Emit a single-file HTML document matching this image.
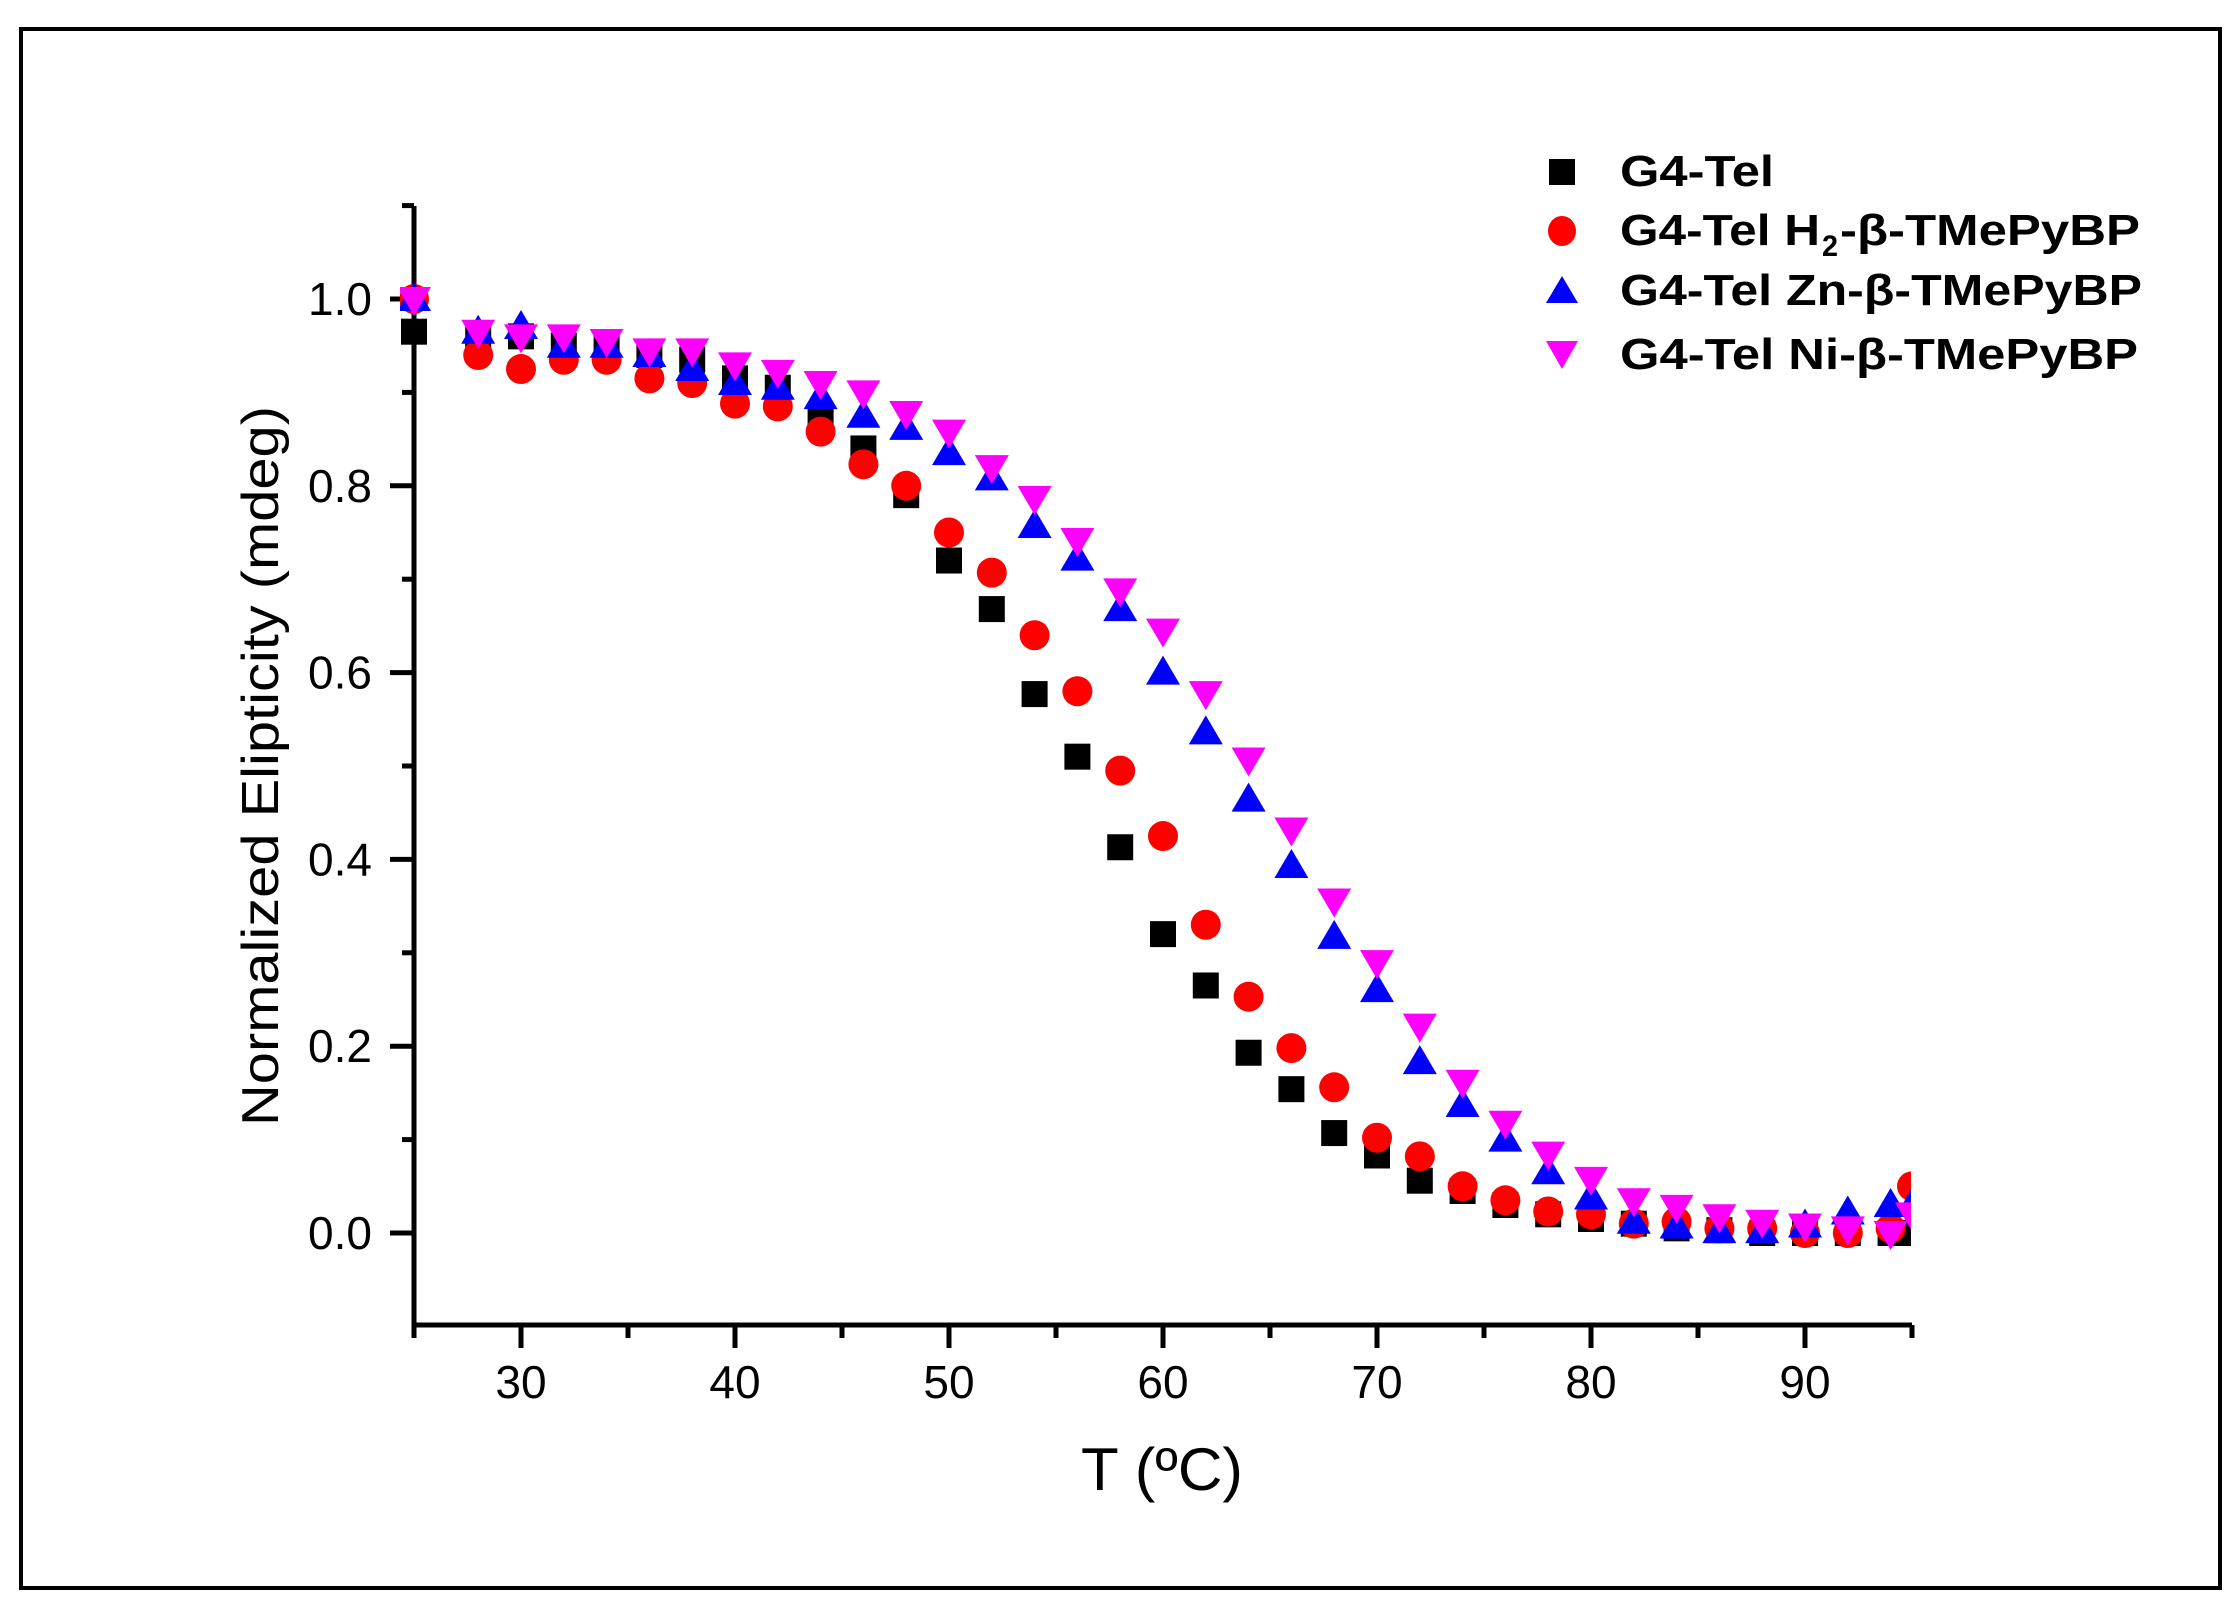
<!DOCTYPE html>
<html><head><meta charset="utf-8"><style>
html,body{margin:0;padding:0;background:#fff;}
svg{display:block;}
</style></head><body>
<svg id="c" width="2235" height="1606" xmlns="http://www.w3.org/2000/svg">
<rect x="21" y="29" width="2199" height="1559" fill="none" stroke="#000" stroke-width="4"/>
<defs><clipPath id="cp"><rect x="400" y="150" width="1511" height="1200"/></clipPath></defs>
<g id="axes" stroke="#000" stroke-width="5" fill="none"></g>
<g id="ticklabels" font-family="Liberation Sans, Arial, sans-serif" font-size="46" fill="#000"></g>
<g id="pts" clip-path="url(#cp)"></g>
<text x="1162" y="1490" font-family="Liberation Sans, Arial, sans-serif" font-size="60" text-anchor="middle" textLength="162" lengthAdjust="spacingAndGlyphs">T (ºC)</text>
<text transform="translate(278,766) rotate(-90)" font-family="Liberation Sans, Arial, sans-serif" font-size="52" text-anchor="middle" textLength="720" lengthAdjust="spacingAndGlyphs">Normalized Elipticity (mdeg)</text>
<g font-family="Liberation Sans, Arial, sans-serif" font-weight="bold" font-size="44" fill="#000">
<rect x="1549" y="159" width="26" height="26" fill="#000"/>
<text x="1620" y="186" textLength="154" lengthAdjust="spacingAndGlyphs">G4-Tel</text>
<ellipse cx="1562" cy="231" rx="14" ry="15" fill="#f00"/>
<text x="1620" y="245" textLength="200" lengthAdjust="spacingAndGlyphs">G4-Tel H</text>
<text x="1822" y="256" font-size="30" textLength="16" lengthAdjust="spacingAndGlyphs">2</text>
<text x="1840" y="245" textLength="300" lengthAdjust="spacingAndGlyphs">-β-TMePyBP</text>
<polygon points="1562,276 1578,303 1546,303" fill="#00f"/>
<text x="1620" y="305" textLength="522" lengthAdjust="spacingAndGlyphs">G4-Tel Zn-β-TMePyBP</text>
<polygon points="1546,341 1578,341 1562,369" fill="#f0f"/>
<text x="1620" y="369" textLength="518" lengthAdjust="spacingAndGlyphs">G4-Tel Ni-β-TMePyBP</text>
</g>
</svg>
<script>
var NS="http://www.w3.org/2000/svg";
function X(t){return 414+(t-25)*21.4;}
function Y(v){return 1233-v*934;}
function el(p,n,a){var e=document.createElementNS(NS,n);for(var k in a)e.setAttribute(k,a[k]);p.appendChild(e);return e;}
var ax=document.getElementById('axes'),tl=document.getElementById('ticklabels'),pts=document.getElementById('pts');
el(ax,'line',{x1:414,y1:206,x2:414,y2:1327});
el(ax,'line',{x1:412,y1:1325,x2:1912,y2:1325});
for(var i=-1;i<=11;i++){var y=Y(i/10);if(i==-1)continue;var maj=(i%2==0);el(ax,'line',{x1:maj?390:402,y1:y,x2:414,y2:y});
 if(maj){var t=el(tl,'text',{x:372,y:y+16,'text-anchor':'end'});t.textContent=(i/10).toFixed(1);}}
for(var t=25;t<=95;t+=5){var x=X(t);var maj=(t%10==0);el(ax,'line',{x1:x,y1:1325,x2:x,y2:maj?1348:1338});
 if(maj){var tx=el(tl,'text',{x:x,y:1398,'text-anchor':'middle'});tx.textContent=t;}}
var T=[25,28];for(var k=30;k<=94;k+=2)T.push(k);T.push(95);
var B=[0.965,0.96,0.96,0.95,0.95,0.94,0.935,0.915,0.905,0.87,0.84,0.79,0.72,0.668,0.577,0.51,0.413,0.32,0.265,0.193,0.154,0.107,0.083,0.056,0.045,0.03,0.02,0.015,0.01,0.005,0.003,0,0,0,0,0];
var R=[1.0,0.94,0.925,0.935,0.935,0.915,0.91,0.888,0.885,0.858,0.823,0.8,0.75,0.707,0.64,0.58,0.495,0.425,0.33,0.253,0.198,0.156,0.102,0.082,0.05,0.035,0.023,0.02,0.01,0.012,0.005,0.005,0,0,0.005,0.05];
var U=[1.0,0.965,0.97,0.95,0.95,0.94,0.925,0.91,0.905,0.895,0.875,0.862,0.835,0.808,0.757,0.722,0.668,0.6,0.536,0.464,0.393,0.317,0.26,0.183,0.137,0.1,0.065,0.038,0.012,0.007,0.002,0.002,0.008,0.022,0.03,0.03];
var M=[1.0,0.965,0.96,0.96,0.955,0.945,0.945,0.93,0.922,0.91,0.9,0.878,0.858,0.82,0.787,0.742,0.688,0.645,0.578,0.507,0.432,0.356,0.29,0.222,0.162,0.118,0.085,0.058,0.035,0.028,0.018,0.012,0.008,0.005,0,0.02];
T.forEach(function(t,i){var x=X(t),y=Y(B[i]);el(pts,'rect',{x:x-13,y:y-13,width:26,height:26,fill:'#000'});});
T.forEach(function(t,i){var x=X(t),y=Y(R[i]);el(pts,'ellipse',{cx:x,cy:y,rx:15,ry:15,fill:'#f00'});});
T.forEach(function(t,i){var x=X(t),y=Y(U[i]);el(pts,'polygon',{points:(x)+','+(y-17)+' '+(x+17)+','+(y+12)+' '+(x-17)+','+(y+12),fill:'#00f'});});
T.forEach(function(t,i){var x=X(t),y=Y(M[i]);el(pts,'polygon',{points:(x-17)+','+(y-12)+' '+(x+17)+','+(y-12)+' '+x+','+(y+17),fill:'#f0f'});});
</script>
</body></html>
